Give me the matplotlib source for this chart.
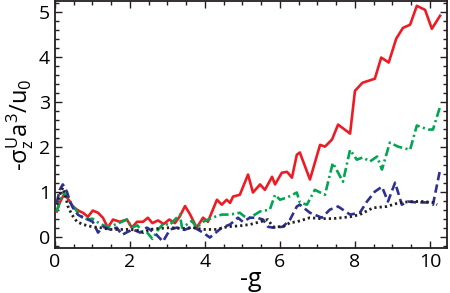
import numpy as np
import matplotlib
matplotlib.use("Agg")
import matplotlib.pyplot as plt
from matplotlib.ticker import MultipleLocator

plt.rcParams['font.family'] = ['Open Sans', 'DejaVu Sans']
plt.rcParams['mathtext.default'] = 'regular'

# red, solid
red_x = [0.05, 0.13, 0.24, 0.32, 0.40, 0.48, 0.59, 0.67, 0.75, 0.88, 1.01, 1.15, 1.28, 1.41,
         1.55, 1.73, 1.92, 2.05, 2.19, 2.35, 2.48, 2.60, 2.75, 2.90, 3.05, 3.20, 3.33, 3.47,
         3.60, 3.78, 3.95, 4.08, 4.32, 4.45, 4.58, 4.67, 4.75, 4.93, 5.15, 5.28, 5.47, 5.60,
         5.79, 5.87, 6.05, 6.19, 6.32, 6.45, 6.53, 6.80, 7.07, 7.20, 7.39, 7.55, 7.87, 8.00,
         8.20, 8.53, 8.70, 8.90, 9.10, 9.28, 9.47, 9.65, 9.87, 10.05, 10.27]
red_y = [0.56, 0.76, 0.93, 0.87, 0.78, 0.67, 0.60, 0.56, 0.53, 0.44, 0.58, 0.53, 0.42, 0.20,
         0.38, 0.33, 0.38, 0.20, 0.33, 0.33, 0.42, 0.30, 0.36, 0.28, 0.38, 0.30, 0.45, 0.68,
         0.50, 0.20, 0.42, 0.33, 0.82, 0.71, 0.82, 0.75, 0.89, 0.93, 1.38, 0.98, 1.16, 1.04,
         1.33, 1.16, 1.42, 1.44, 1.31, 1.82, 1.87, 1.27, 2.04, 2.00, 2.16, 2.49, 2.29, 3.24,
         3.42, 3.51, 3.98, 3.87, 4.40, 4.64, 4.71, 5.13, 5.04, 4.62, 4.91]

# green, dash-dot
green_x = [0.05, 0.13, 0.24, 0.35, 0.45, 0.59, 0.75, 0.88, 1.00, 1.12, 1.25, 1.39, 1.55, 1.73,
           1.92, 2.05, 2.20, 2.32, 2.45, 2.60, 2.75, 2.90, 3.05, 3.20, 3.33, 3.39, 3.52, 3.65,
           3.78, 3.95, 4.19, 4.45, 4.67, 4.93, 5.05, 5.20, 5.47, 5.73, 5.87, 6.00, 6.19, 6.45,
           6.53, 6.72, 6.93, 7.20, 7.41, 7.68, 7.87, 8.05, 8.21, 8.40, 8.59, 8.72, 8.93, 9.15,
           9.47, 9.65, 9.95, 10.08, 10.27]
green_y = [0.56, 0.78, 0.98, 0.87, 0.71, 0.56, 0.42, 0.38, 0.40, 0.33, 0.27, 0.22, 0.25, 0.31,
           0.38, 0.20, 0.25, 0.12, 0.10, -0.05, 0.15, 0.30, 0.25, 0.38, 0.49, 0.20, 0.27, 0.35,
           0.20, 0.33, 0.42, 0.49, 0.49, 0.53, 0.45, 0.42, 0.56, 0.60, 0.93, 0.82, 0.87, 0.98,
           0.76, 0.71, 1.04, 0.93, 1.64, 1.22, 1.93, 1.71, 1.76, 1.67, 1.78, 1.49, 2.09, 2.00,
           1.93, 2.47, 2.38, 2.38, 2.89]

# blue, dashed
blue_x = [0.05, 0.13, 0.21, 0.32, 0.40, 0.48, 0.61, 0.75, 0.88, 1.01, 1.15, 1.28, 1.47, 1.65,
          1.79, 1.95, 2.08, 2.27, 2.45, 2.53, 2.70, 2.88, 3.07, 3.25, 3.45, 3.68, 3.95, 4.13,
          4.32, 4.45, 4.67, 4.88, 5.01, 5.20, 5.38, 5.55, 5.68, 5.81, 6.08, 6.27, 6.45, 6.53,
          6.80, 7.12, 7.33, 7.55, 7.87, 8.13, 8.32, 8.53, 8.72, 8.88, 9.07, 9.25, 9.41, 9.65,
          9.95, 10.08, 10.27]
blue_y = [0.76, 1.04, 1.16, 1.00, 0.78, 0.64, 0.49, 0.42, 0.38, 0.33, 0.09, 0.22, 0.16, 0.20,
          0.04, 0.11, 0.16, 0.09, 0.20, 0.16, 0.05, -0.11, 0.16, 0.20, 0.15, 0.22, 0.09, -0.02,
          0.11, 0.20, 0.27, 0.42, 0.33, 0.42, 0.42, 0.38, 0.22, 0.20, 0.22, 0.38, 0.67, 0.71,
          0.53, 0.42, 0.60, 0.67, 0.49, 0.53, 0.78, 1.00, 1.11, 0.78, 1.20, 0.71, 0.78, 0.76,
          0.76, 0.71, 1.49]

# black, dotted
black_x = [0.05, 0.13, 0.21, 0.29, 0.35, 0.45, 0.59, 0.75, 0.99, 1.20, 1.47, 1.75, 2.00, 2.20,
           2.35, 2.53, 2.75, 3.07, 3.40, 3.68, 3.95, 4.32, 4.60, 4.93, 5.20, 5.47, 5.68, 5.81,
           6.08, 6.27, 6.45, 6.80, 7.07, 7.41, 7.87, 8.13, 8.48, 8.85, 9.20, 9.55, 9.81, 10.08,
           10.19]
black_y = [0.71, 0.93, 1.09, 0.87, 0.67, 0.49, 0.33, 0.27, 0.22, 0.20, 0.16, 0.16, 0.16, 0.14,
           0.09, 0.16, 0.18, 0.20, 0.18, 0.20, 0.16, 0.16, 0.22, 0.24, 0.27, 0.33, 0.38, 0.22,
           0.22, 0.31, 0.33, 0.42, 0.40, 0.40, 0.44, 0.49, 0.64, 0.67, 0.76, 0.78, 0.78, 0.76,
           0.71]

fig = plt.figure(figsize=(4.5, 2.93), dpi=100)
ax = fig.add_axes([0.122, 0.154, 0.871, 0.843])

ax.plot(red_x, red_y, color='#ed1c24', lw=1.9, zorder=3)
ax.plot(green_x, green_y, color='#00a651', lw=1.9, dashes=(3.5, 1.3, 0.8, 1.3), zorder=4)
ax.plot(blue_x, blue_y, color='#2e3192', lw=1.9, dashes=(3.2, 1.6), zorder=5)
ax.plot(black_x, black_y, color='#231f20', lw=2.0, dashes=(0.8, 1.1), zorder=6)

ax.set_xlim(0, 10.45)
ax.set_ylim(-0.25, 5.24)
ax.xaxis.set_major_locator(MultipleLocator(2))
ax.xaxis.set_minor_locator(MultipleLocator(0.5))
ax.yaxis.set_major_locator(MultipleLocator(1))
ax.yaxis.set_minor_locator(MultipleLocator(0.2))
ax.tick_params(which='both', direction='in', top=True, right=True, width=1.0,
               labelsize=14, color='#231f20')
ax.tick_params(which='major', length=5)
ax.tick_params(which='minor', length=3)
for sp in ax.spines.values():
    sp.set_linewidth(1.3)
    sp.set_color('#231f20')

ax.set_xlabel('-g', fontsize=18, labelpad=-3)
ax.set_ylabel(r'-$\sigma_z^U a^3/u_0$', fontsize=17, labelpad=2)

plt.savefig('out.png', dpi=100)
